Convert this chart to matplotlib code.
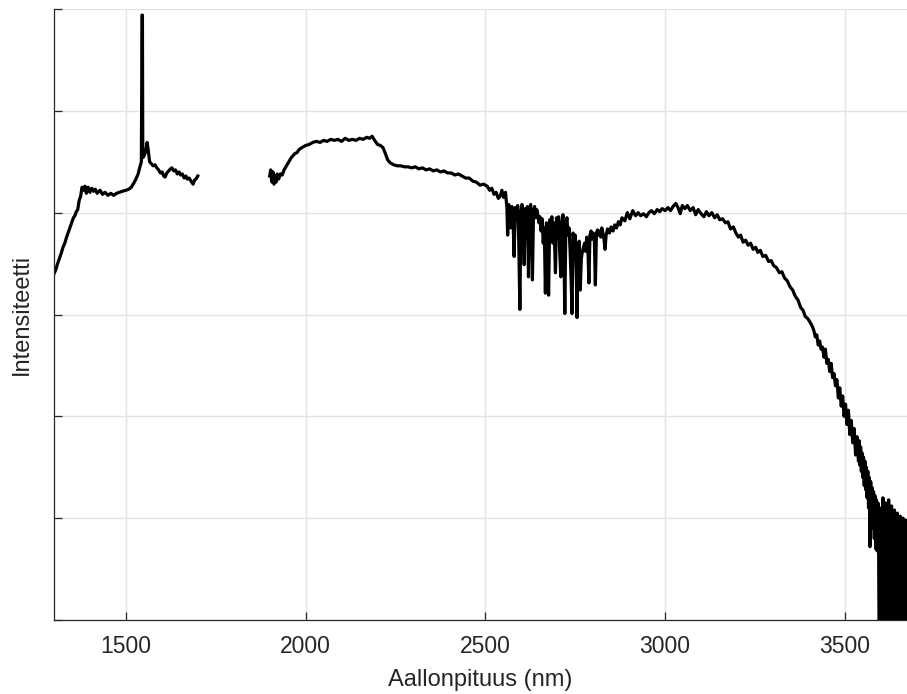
import numpy as np
import matplotlib
matplotlib.use("Agg")
import matplotlib.pyplot as plt

plt.rcParams['font.family'] = ['Liberation Sans', 'DejaVu Sans']

# (wavelength nm, intensity) pairs
seg_short = [
    (1300, 3.40), (1305, 3.44), (1310, 3.50), (1315, 3.55), (1320, 3.60),
    (1325, 3.66), (1330, 3.70), (1335, 3.76), (1340, 3.81), (1345, 3.86),
    (1350, 3.91), (1354, 3.95), (1358, 3.97), (1362, 4.01), (1366, 4.03),
    (1370, 4.12), (1374, 4.16), (1378, 4.25), (1382, 4.22), (1386, 4.26),
    (1390, 4.19), (1395, 4.25), (1400, 4.20), (1405, 4.24), (1410, 4.21),
    (1415, 4.23), (1420, 4.19), (1428, 4.22), (1435, 4.18), (1442, 4.20),
    (1450, 4.17), (1458, 4.19), (1466, 4.17), (1474, 4.19), (1482, 4.20),
    (1490, 4.21), (1500, 4.22), (1508, 4.23), (1515, 4.25), (1522, 4.29),
    (1528, 4.33), (1534, 4.38), (1539, 4.45), (1543, 4.50), (1545, 5.94),
    (1546, 5.94), (1547, 4.54), (1551, 4.56), (1555, 4.60), (1559, 4.69),
    (1562, 4.62), (1566, 4.50), (1571, 4.48), (1576, 4.46), (1581, 4.47),
    (1586, 4.44), (1591, 4.42), (1596, 4.39), (1601, 4.40), (1605, 4.36),
    (1609, 4.35), (1614, 4.39), (1619, 4.41), (1624, 4.43), (1628, 4.44),
    (1633, 4.41), (1638, 4.42), (1643, 4.38), (1648, 4.40), (1652, 4.37),
    (1657, 4.38), (1662, 4.34), (1667, 4.36), (1671, 4.33), (1676, 4.34),
    (1681, 4.31), (1687, 4.28), (1691, 4.32), (1695, 4.33), (1700, 4.36),
]

seg_plateau = [
    (1900, 4.36), (1903, 4.42), (1906, 4.30), (1909, 4.40), (1912, 4.28),
    (1915, 4.36), (1918, 4.30), (1921, 4.38), (1925, 4.33), (1930, 4.38),
    (1935, 4.37), (1940, 4.42), (1945, 4.45), (1950, 4.48), (1955, 4.51),
    (1960, 4.54), (1965, 4.56), (1970, 4.58), (1976, 4.59), (1982, 4.62),
    (1990, 4.64), (2000, 4.66), (2010, 4.67), (2020, 4.69), (2030, 4.70),
    (2040, 4.69), (2050, 4.71), (2060, 4.70), (2070, 4.72), (2080, 4.71),
    (2090, 4.72), (2100, 4.70), (2110, 4.73), (2120, 4.71), (2130, 4.72),
    (2140, 4.71), (2150, 4.73), (2160, 4.72), (2170, 4.74), (2178, 4.73),
    (2185, 4.75), (2192, 4.71), (2200, 4.67), (2208, 4.66), (2215, 4.64),
    (2222, 4.58), (2228, 4.52), (2235, 4.49), (2245, 4.47), (2255, 4.46),
    (2265, 4.46), (2275, 4.45), (2285, 4.45), (2295, 4.44), (2305, 4.45),
    (2315, 4.43), (2325, 4.44), (2335, 4.42), (2345, 4.43), (2355, 4.41),
    (2365, 4.42), (2375, 4.40), (2385, 4.41), (2395, 4.39), (2405, 4.39),
    (2415, 4.37), (2425, 4.38), (2435, 4.36), (2445, 4.34), (2455, 4.34),
    (2465, 4.31), (2475, 4.30), (2485, 4.27), (2495, 4.28), (2505, 4.26),
    (2512, 4.22), (2518, 4.24), (2524, 4.18), (2530, 4.20), (2536, 4.14),
    (2541, 4.16), (2546, 4.22), (2551, 4.15),
]

seg_absorption = [
    (2556, 4.20), (2560, 4.05), (2562, 3.78), (2565, 4.08), (2568, 4.02),
    (2571, 3.85), (2574, 4.06), (2577, 3.95), (2580, 3.57), (2583, 4.05),
    (2586, 3.98), (2590, 4.07), (2593, 3.70), (2596, 3.05), (2599, 4.02),
    (2602, 4.08), (2605, 3.90), (2608, 3.49), (2611, 4.04), (2614, 3.95),
    (2617, 4.06), (2620, 3.37), (2623, 4.00), (2626, 4.08), (2629, 3.80),
    (2631, 3.34), (2634, 4.02), (2637, 4.06), (2640, 3.95), (2643, 4.03),
    (2646, 3.98), (2649, 3.90), (2652, 3.96), (2655, 3.82), (2658, 3.94),
    (2661, 3.70), (2664, 3.85), (2667, 3.21), (2670, 3.90), (2673, 3.45),
    (2676, 3.19), (2679, 3.93), (2682, 3.85), (2685, 3.96), (2688, 3.70),
    (2691, 3.90), (2695, 3.41), (2698, 3.95), (2701, 3.88), (2704, 3.96),
    (2707, 3.60), (2710, 3.37), (2713, 3.90), (2716, 3.98), (2719, 3.55),
    (2721, 3.01), (2724, 3.90), (2727, 3.95), (2730, 3.78), (2733, 3.85),
    (2736, 3.60), (2739, 3.30), (2741, 3.01), (2744, 3.80), (2747, 3.70),
    (2750, 3.78), (2753, 3.40), (2755, 2.97), (2758, 3.60), (2761, 3.72),
    (2764, 3.24), (2767, 3.55), (2770, 3.62), (2773, 3.66), (2776, 3.70),
    (2779, 3.62), (2782, 3.76), (2785, 3.70), (2788, 3.31), (2791, 3.78),
    (2794, 3.82), (2797, 3.74), (2800, 3.80), (2803, 3.78), (2806, 3.29),
    (2809, 3.80), (2812, 3.83), (2815, 3.78), (2818, 3.82), (2821, 3.76),
    (2824, 3.85), (2827, 3.80), (2830, 3.74), (2833, 3.64), (2836, 3.78),
    (2840, 3.84), (2845, 3.80), (2850, 3.86), (2855, 3.82),
]

seg_hump = [
    (2860, 3.88), (2865, 3.85), (2870, 3.91), (2875, 3.88), (2880, 3.95),
    (2888, 3.92), (2895, 4.00), (2902, 3.94), (2910, 4.02), (2918, 3.97),
    (2925, 4.00), (2932, 3.97), (2940, 3.99), (2948, 3.96), (2955, 4.00),
    (2962, 4.02), (2970, 3.99), (2978, 4.03), (2985, 4.01), (2992, 4.04),
    (3000, 4.02), (3008, 4.05), (3015, 4.02), (3022, 4.06), (3030, 4.09),
    (3036, 4.05), (3042, 3.99), (3048, 4.07), (3055, 4.04), (3062, 4.07),
    (3070, 4.02), (3078, 4.05), (3085, 3.98), (3092, 4.03), (3100, 3.99),
    (3108, 3.96), (3115, 4.01), (3122, 3.97), (3130, 4.00), (3138, 3.95),
    (3145, 3.98), (3152, 3.93), (3160, 3.94), (3168, 3.90), (3175, 3.91),
    (3182, 3.84), (3190, 3.86), (3197, 3.80), (3204, 3.76), (3210, 3.78),
    (3217, 3.71), (3224, 3.73), (3231, 3.68), (3238, 3.70), (3245, 3.64),
    (3252, 3.66), (3258, 3.61), (3265, 3.63), (3272, 3.57), (3280, 3.58),
    (3288, 3.52), (3295, 3.53), (3302, 3.48), (3310, 3.46), (3318, 3.41),
    (3325, 3.42), (3332, 3.36), (3340, 3.33), (3348, 3.27), (3355, 3.24),
    (3362, 3.18), (3370, 3.14), (3377, 3.07), (3384, 3.04), (3390, 2.98),
    (3397, 2.96), (3404, 2.92), (3410, 2.88),
]

seg_falloff = [
    (3414, 2.84), (3418, 2.78), (3422, 2.80), (3426, 2.70), (3430, 2.74),
    (3434, 2.66), (3438, 2.68), (3442, 2.58), (3446, 2.66), (3450, 2.52),
    (3454, 2.56), (3458, 2.44), (3462, 2.52), (3466, 2.38), (3470, 2.42),
    (3474, 2.30), (3478, 2.36), (3482, 2.18), (3486, 2.28), (3490, 2.10),
    (3494, 2.20), (3498, 2.00), (3502, 2.12), (3506, 1.92), (3510, 2.06),
    (3514, 1.82), (3518, 1.96), (3522, 1.74), (3526, 1.88), (3530, 1.62),
    (3534, 1.80), (3538, 1.56), (3540, 1.76), (3542, 1.52), (3544, 1.70),
    (3546, 1.46), (3548, 1.64), (3550, 1.40), (3552, 1.60), (3554, 1.32),
    (3556, 1.56), (3558, 1.28), (3560, 1.50), (3562, 1.20), (3564, 1.46),
    (3566, 1.10), (3568, 1.40), (3570, 0.72), (3572, 1.36), (3574, 1.00),
    (3576, 1.30), (3578, 0.90), (3580, 1.26), (3582, 0.80), (3584, 1.22),
    (3586, 0.70), (3588, 1.18), (3590, 0.68), (3592, 1.15), (3594, 0.75),
]

seg_noise = [
    (3596, -0.6), (3598, 1.10), (3600, -0.4), (3602, 0.95), (3604, -0.7),
    (3606, 1.20), (3608, -0.5), (3610, 1.05), (3612, -0.6), (3614, 1.15),
    (3616, -0.4), (3618, 0.90), (3620, -0.7), (3622, 1.18), (3624, -0.5),
    (3626, 1.00), (3628, -0.6), (3630, 1.12), (3632, -0.4), (3634, 0.92),
    (3636, -0.7), (3638, 1.08), (3640, -0.5), (3642, 0.98), (3644, -0.6),
    (3646, 1.05), (3648, -0.4), (3650, 0.88), (3652, -0.7), (3654, 1.02),
    (3656, -0.5), (3658, 0.95), (3660, -0.6), (3662, 1.00), (3664, -0.4),
    (3666, 0.85), (3668, -0.7), (3670, 0.98), (3672, -0.5), (3674, 0.90),
]

x_ticks = [1500, 2000, 2500, 3000, 3500]
x_label = "Aallonpituus (nm)"
y_label = "Intensiteetti"

short = np.array(seg_short).T
long_ = np.array(seg_plateau + seg_absorption + seg_hump + seg_falloff + seg_noise).T

fig = plt.figure(figsize=(9.07, 6.94), dpi=100)
ax = fig.add_axes([54 / 907, 74 / 694, 1 - 54 / 907, (620 - 9) / 694])

ax.plot(short[0], short[1], color='black', lw=2.3, solid_joinstyle='round')
ax.plot(long_[0], long_[1], color='black', lw=2.3, solid_joinstyle='round')

ax.set_xlim(1300, 3673)
ax.set_ylim(0, 6)
ax.set_xticks(x_ticks)
ax.set_xticklabels([str(t) for t in x_ticks])
ax.set_yticks(range(0, 7))
ax.set_yticklabels([])

ax.grid(True, color='#e3e3e3', lw=1.0)
ax.set_axisbelow(True)
for s in ['top', 'right']:
    ax.spines[s].set_visible(False)
for s in ['left', 'bottom']:
    ax.spines[s].set_color('#262626')
    ax.spines[s].set_linewidth(0.9)

ax.tick_params(axis='both', direction='in', length=6, width=0.9, color='#262626',
               labelsize=16.5, labelcolor='#262626', pad=11)
ax.set_xlabel(x_label, fontsize=17, color='#262626', labelpad=8)
ax.set_ylabel(y_label, fontsize=17, color='#262626', labelpad=4)

fig.savefig("out.png", dpi=100)
